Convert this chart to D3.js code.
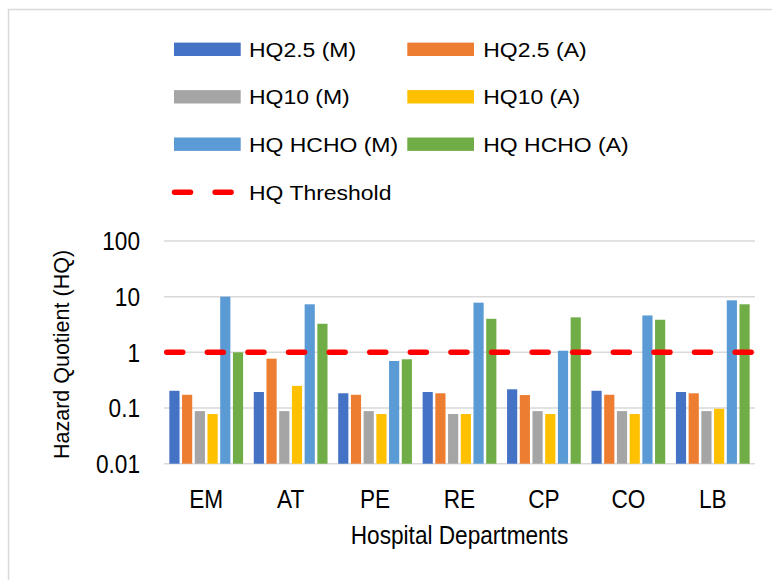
<!DOCTYPE html>
<html>
<head>
<meta charset="utf-8">
<script src="https://cdn.jsdelivr.net/npm/d3@7"></script>
<style>
  html, body { margin: 0; padding: 0; background: #fff; }
  text { font-family: 'Liberation Sans', Arial, sans-serif; fill: #000; }
</style>
</head>
<body>
<script>
// departments on the x axis
const departments = ['EM', 'AT', 'PE', 'RE', 'CP', 'CO', 'LB']

// series, in legend/bar order
const seriesNames = ['HQ2.5 (M)', 'HQ2.5 (A)', 'HQ10 (M)', 'HQ10 (A)', 'HQ HCHO (M)', 'HQ HCHO (A)']
const seriesColors = ['#4472C4', '#ED7D31', '#A5A5A5', '#FFC000', '#5B9BD5', '#70AD47']

const hq25M = [0.204, 0.194, 0.184, 0.194, 0.217, 0.204, 0.194]
const hq25A = [0.173, 0.77, 0.173, 0.184, 0.171, 0.173, 0.184]
const hq10M = [0.088, 0.088, 0.088, 0.078, 0.088, 0.088, 0.088]
const hq10A = [0.078, 0.25, 0.078, 0.078, 0.078, 0.078, 0.097]
const hchoM = [10.0, 7.3, 0.7, 7.8, 1.07, 4.6, 8.6]
const hchoA = [1.0, 3.26, 0.75, 4.0, 4.25, 3.85, 7.3]

const threshold = 1
const yTicks = [0.01, 0.1, 1, 10, 100]
const yTickLabels = ['0.01', '0.1', '1', '10', '100']

const seriesValues = [hq25M, hq25A, hq10M, hq10A, hchoM, hchoA]

const W = 772, H = 580
const plot = { left: 164, right: 755, top: 241, bottom: 463.7 }

const svg = d3.select('body').append('svg')
  .attr('width', W).attr('height', H)

// frame (cropped, only top and left edges visible)
svg.append('rect')
  .attr('x', 8.5).attr('y', 9.5).attr('width', 900).attr('height', 900)
  .attr('fill', 'none').attr('stroke', '#d9d9d9').attr('stroke-width', 1.5)

const x0 = d3.scaleBand().domain(departments).range([plot.left, plot.right]).padding(0)
const x1 = d3.scaleBand().domain(seriesNames).range([0, x0.bandwidth()])
  .paddingInner(0.2).paddingOuter(0.42)
const y = d3.scaleLog().domain([0.01, 100]).range([plot.bottom, plot.top])

// gridlines
svg.append('g')
  .selectAll('line')
  .data(yTicks)
  .join('line')
  .attr('x1', plot.left).attr('x2', plot.right)
  .attr('y1', d => y(d)).attr('y2', d => y(d))
  .attr('stroke', '#d9d9d9').attr('stroke-width', 1.5)

// y tick labels
svg.append('g')
  .selectAll('text')
  .data(yTicks)
  .join('text')
  .attr('transform', d => `translate(140,${y(d) + 9.3}) scale(0.87,1)`)
  .attr('text-anchor', 'end')
  .attr('font-size', 26)
  .text((d, i) => yTickLabels[i])

// bars
const groups = svg.append('g')
  .selectAll('g')
  .data(departments)
  .join('g')
  .attr('transform', d => `translate(${x0(d)},0)`)

groups.selectAll('rect')
  .data((d, i) => seriesNames.map((s, j) => ({ s, j, v: seriesValues[j][i] })))
  .join('rect')
  .attr('x', d => x1(d.s))
  .attr('width', x1.bandwidth())
  .attr('y', d => y(d.v))
  .attr('height', d => y(0.01) - y(d.v))
  .attr('fill', d => seriesColors[d.j])

// threshold line
svg.append('line')
  .attr('x1', plot.left + 2.75).attr('x2', plot.right)
  .attr('y1', y(threshold)).attr('y2', y(threshold))
  .attr('stroke', '#FF0000').attr('stroke-width', 5.5)
  .attr('stroke-linecap', 'round')
  .attr('stroke-dasharray', '16,24.6')

// x category labels
svg.append('g')
  .selectAll('text')
  .data(departments)
  .join('text')
  .attr('transform', d => `translate(${x0(d) + x0.bandwidth() / 2},507.5) scale(0.87,1)`)
  .attr('text-anchor', 'middle')
  .attr('font-size', 26)
  .text(d => d)

// axis titles
svg.append('text')
  .attr('transform', `translate(${(plot.left + plot.right) / 2},544) scale(0.87,1)`)
  .attr('text-anchor', 'middle')
  .attr('font-size', 26)
  .text('Hospital Departments')

svg.append('text')
  .attr('transform', 'translate(69,354.5) rotate(-90)')
  .attr('text-anchor', 'middle')
  .attr('font-size', 21.5)
  .text('Hazard Quotient (HQ)')

// legend
const legendRows = [49.3, 96.8, 144.2]
const legendCols = [{ sw: 174, tx: 249 }, { sw: 407.3, tx: 483.3 }]

const legend = svg.append('g')
seriesNames.forEach((name, i) => {
  const col = legendCols[i % 2]
  const cy = legendRows[Math.floor(i / 2)]
  legend.append('rect')
    .attr('x', col.sw).attr('y', cy - 6.7)
    .attr('width', 66.7).attr('height', 13.4)
    .attr('fill', seriesColors[i])
  legend.append('text')
    .attr('transform', `translate(${col.tx},${cy + 7.6}) scale(1.12,1)`)
    .attr('font-size', 20.5)
    .text(name)
})

const thrY = 192.3
legend.append('line')
  .attr('x1', 174.5).attr('x2', 231.5)
  .attr('y1', thrY).attr('y2', thrY)
  .attr('stroke', '#FF0000').attr('stroke-width', 5.5)
  .attr('stroke-linecap', 'round')
  .attr('stroke-dasharray', '16,24.6')
legend.append('text')
  .attr('transform', `translate(249,${thrY + 7.6}) scale(1.12,1)`)
  .attr('font-size', 20.5)
  .text('HQ Threshold')
</script>
</body>
</html>
